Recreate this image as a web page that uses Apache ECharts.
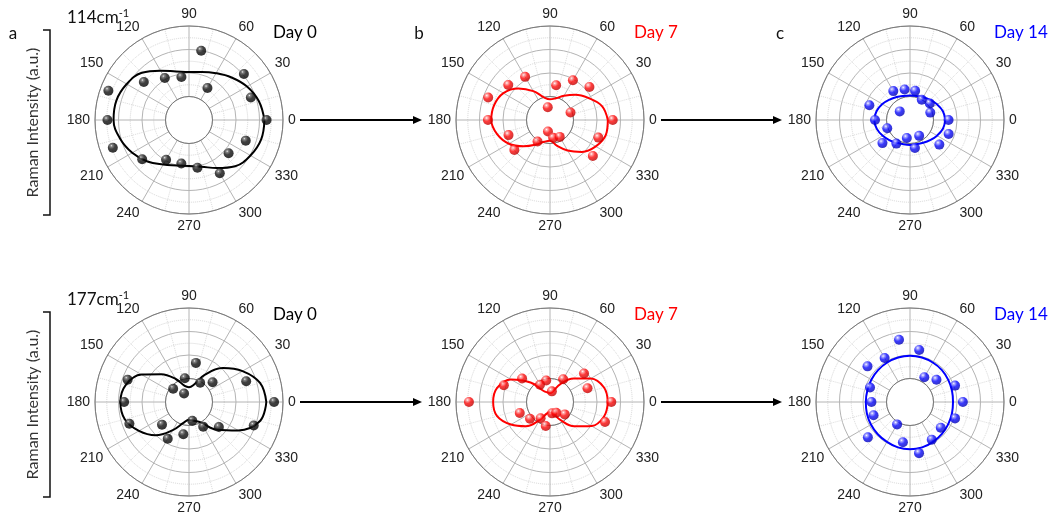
<!DOCTYPE html>
<html>
<head>
<meta charset="utf-8">
<title>Polarized Raman intensity</title>
<script src="https://cdn.jsdelivr.net/npm/echarts@6/dist/echarts.min.js"></script>
<style>
  html, body { margin: 0; padding: 0; background: #fff; }
  #chart { width: 1052px; height: 516px; }
</style>
</head>
<body>
<div id="chart"></div>
<script>
// Polarization angles (degrees) of the measured points and of the fitted curves
const pointAngles = [0, 20, 40, 60, 80, 100, 120, 140, 160, 180, 200, 220, 240, 260, 280, 300, 320, 340];
const fitAngles = [0, 15, 30, 45, 60, 75, 90, 105, 120, 135, 150, 165, 180, 195, 210, 225, 240, 255, 270, 285, 300, 315, 330, 345, 360];
const angleTicks = [0, 30, 60, 90, 120, 150, 180, 210, 240, 270, 300, 330];

// 114 cm-1 mode
const mode114Day0 = [330, 280, 305, 157, 299, 186, 206, 251, 365, 347, 345, 260, 195, 188, 206, 262, 220, 257];
const mode114Day0Fit = [321, 308, 285, 256, 230, 212, 204, 214, 242, 284, 306, 320, 321, 304, 279, 250, 219, 200, 196, 206, 236, 278, 302, 318, 321];
const mode114Day7 = [267, 93, 219, 195, 150, 55, 212, 232, 280, 264, 188, 198, 106, 50, 77, 83, 238, 219];
const mode114Day7Fit = [246, 229, 188, 152, 119, 96, 88, 100, 142, 190, 229, 246, 250, 233, 202, 158, 121, 96, 88, 113, 150, 192, 225, 246, 246];
const mode114Day14 = [164, 92, 110, 100, 126, 132, 142, 57, 184, 149, 103, 153, 116, 78, 121, 78, 163, 175];
const mode114Day14Fit = [150, 145, 133, 121, 112, 106, 104, 106, 113, 123, 136, 147, 152, 146, 134, 122, 112, 107, 106, 107, 112, 121, 133, 145, 150];

// 177 cm-1 mode
const mode177Day0 = [362, 259, 131, 95, 169, 103, 42, 88, 278, 276, 270, 150, 181, 139, 81, 121, 166, 293];
const mode177Day0Fit = [329, 313, 263, 204, 133, 75, 63, 71, 113, 167, 233, 279, 292, 283, 246, 200, 138, 92, 75, 83, 100, 167, 242, 313, 329];
const mode177Day7 = [261, 170, 189, 112, 46, 93, 85, 155, 209, 345, 137, 111, 80, 104, 49, 53, 82, 249];
const mode177Day7Fit = [246, 238, 200, 142, 88, 46, 38, 42, 54, 117, 192, 233, 242, 233, 192, 146, 88, 50, 42, 50, 88, 146, 204, 238, 246];
const mode177Day14 = [225, 204, 147, 122, 225, 269, 216, 236, 181, 164, 165, 234, 110, 174, 221, 185, 171, 204];
const mode177Day14Fit = [183, 185, 188, 192, 194, 196, 197, 196, 194, 192, 190, 188, 188, 190, 192, 194, 196, 200, 201, 200, 196, 192, 188, 185, 183];

// Text labels
const dayLabels = ['Day 0', 'Day 7', 'Day 14'];
const panelLetters = ['a', 'b', 'c'];
const modeLabels = ['114cm', '177cm'];
const yAxisName = 'Raman Intensity (a.u.)';

// Layout
const colX = [189, 550, 910];
const rowY = [120, 402];
const R_OUT = 94;
const R_IN = 23.5;
const dayColors = ['#000000', '#ff0000', '#0000ff'];
const sphereStops = [
  ['#f0f0f0', '#6a6a6a', '#111111', '#000000'],
  ['#ffffff', '#ff9a9a', '#ff0a0a', '#b00000'],
  ['#ffffff', '#9a9aff', '#0a0aff', '#0000a8']
];

const panels = [
  { row: 0, col: 0, pts: mode114Day0, fit: mode114Day0Fit },
  { row: 0, col: 1, pts: mode114Day7, fit: mode114Day7Fit },
  { row: 0, col: 2, pts: mode114Day14, fit: mode114Day14Fit },
  { row: 1, col: 0, pts: mode177Day0, fit: mode177Day0Fit },
  { row: 1, col: 1, pts: mode177Day7, fit: mode177Day7Fit },
  { row: 1, col: 2, pts: mode177Day14, fit: mode177Day14Fit }
];

const polar = [], angleAxis = [], radiusAxis = [], series = [], graphic = [];

panels.forEach((p, i) => {
  const center = [colX[p.col], rowY[p.row]];
  const gridIdx = 2 * i, dataIdx = 2 * i + 1;
  const color = dayColors[p.col];
  const st = sphereStops[p.col];

  // grid polar (hollow centre, spokes start at the first ring)
  polar.push({ center: center, radius: [R_IN, R_OUT] });
  // data polar (full disc, same radial scale)
  polar.push({ center: center, radius: [0, R_OUT] });

  angleAxis.push({
    polarIndex: gridIdx, type: 'value', min: 0, max: 360, interval: 30,
    startAngle: 0, clockwise: false,
    axisLine: { show: true, lineStyle: { color: '#7a7a7a', width: 1 } },
    axisTick: { show: false },
    axisLabel: {
      show: true, margin: 5, color: '#222',
      fontFamily: 'Liberation Sans, Arial, sans-serif', fontSize: 14,
      formatter: v => (angleTicks.indexOf(v) >= 0 ? String(v) : '')
    },
    splitLine: { show: true, lineStyle: { color: '#b4b4b4', width: 1 } },
    minorTick: { show: false, splitNumber: 2 },
    minorSplitLine: { show: true, lineStyle: { color: '#dcdcdc', width: 1, type: 'dotted' } }
  });
  angleAxis.push({
    polarIndex: dataIdx, type: 'value', min: 0, max: 360,
    startAngle: 0, clockwise: false, show: false
  });

  radiusAxis.push({
    polarIndex: gridIdx, type: 'value', min: 100, max: 400, interval: 100,
    axisLine: { show: false }, axisTick: { show: false }, axisLabel: { show: false },
    splitLine: { show: true, lineStyle: { color: '#b4b4b4', width: 1 } },
    minorTick: { show: false, splitNumber: 2 },
    minorSplitLine: { show: true, lineStyle: { color: '#d6d6d6', width: 1, type: 'dotted' } }
  });
  radiusAxis.push({
    polarIndex: dataIdx, type: 'value', min: 0, max: 400, show: false
  });

  series.push({
    type: 'line', coordinateSystem: 'polar', polarIndex: dataIdx,
    data: fitAngles.map((a, k) => [p.fit[k], a]),
    showSymbol: false, smooth: 0.4, silent: true, z: 2,
    lineStyle: { color: color, width: 2 }
  });
  series.push({
    type: 'scatter', coordinateSystem: 'polar', polarIndex: dataIdx,
    data: pointAngles.map((a, k) => [p.pts[k], a]),
    symbol: 'circle', symbolSize: 10, z: 3, silent: true,
    itemStyle: {
      color: {
        type: 'radial', x: 0.36, y: 0.3, r: 0.78,
        colorStops: [
          { offset: 0, color: st[0] },
          { offset: 0.14, color: st[1] },
          { offset: 0.45, color: st[2] },
          { offset: 1, color: st[3] }
        ]
      }
    }
  });

  // Day labels
  graphic.push({
    type: 'text', x: center[0] + 84, y: center[1] - 87, silent: true,
    style: {
      text: dayLabels[p.col], fill: color, font: '17px Lato, "Open Sans", sans-serif',
      align: 'left', verticalAlign: 'middle'
    }
  });
});

const titleFont = 'Lato, "Open Sans", sans-serif';

// Panel letters
panelLetters.forEach((t, c) => {
  const xs = [13, 419, 780];
  graphic.push({
    type: 'text', x: xs[c], y: 34, silent: true,
    style: { text: t, fill: '#111', font: '17px ' + titleFont, align: 'center', verticalAlign: 'middle' }
  });
});

// Mode labels with superscript
modeLabels.forEach((t, r) => {
  graphic.push({
    type: 'text', x: colX[0] - 122, y: rowY[r] - 102, silent: true,
    style: {
      text: '{m|' + t + '}{s|-1}',
      align: 'left', verticalAlign: 'middle',
      rich: {
        m: { fontSize: 17, fontFamily: titleFont, fill: '#111', color: '#111' },
        s: { fontSize: 11, fontFamily: titleFont, fill: '#111', color: '#111', verticalAlign: 'top', padding: [0, 0, 10, 0] }
      }
    }
  });
});

// Intensity brackets and axis names
rowY.forEach(cy => {
  const top = cy - 90, bot = cy + 95;
  graphic.push({
    type: 'polyline', silent: true,
    shape: { points: [[43, top], [50, top], [50, bot], [43, bot]] },
    style: { stroke: '#111', lineWidth: 1.5, fill: null }
  });
  graphic.push({
    type: 'text', x: 33, y: (top + bot) / 2, rotation: Math.PI / 2, silent: true,
    style: { text: yAxisName, fill: '#333', font: '16px ' + titleFont, align: 'center', verticalAlign: 'middle' }
  });
});

// Arrows between days
rowY.forEach(cy => {
  for (let c = 0; c < 2; c++) {
    const x0 = colX[c] + 111, x1 = colX[c + 1] - 128;
    graphic.push({
      type: 'line', silent: true,
      shape: { x1: x0, y1: cy, x2: x1 - 6, y2: cy },
      style: { stroke: '#000', lineWidth: 2 }
    });
    graphic.push({
      type: 'polygon', silent: true,
      shape: { points: [[x1, cy], [x1 - 9, cy - 4], [x1 - 9, cy + 4]] },
      style: { fill: '#000' }
    });
  }
});

const chart = echarts.init(document.getElementById('chart'), null, { renderer: 'canvas' });
chart.setOption({
  animation: false,
  backgroundColor: '#ffffff',
  polar: polar,
  angleAxis: angleAxis,
  radiusAxis: radiusAxis,
  series: series,
  graphic: graphic
});
</script>
</body>
</html>
